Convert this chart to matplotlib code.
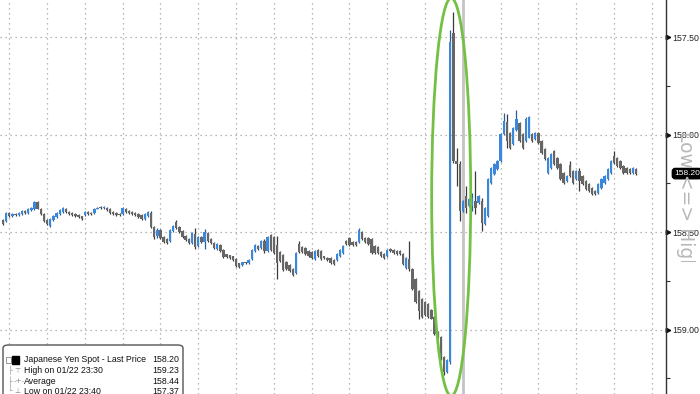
import matplotlib
matplotlib.use("Agg")
import matplotlib.pyplot as plt
from matplotlib.patches import Ellipse, FancyBboxPatch, Rectangle

# 10-minute USD/JPY candles (axis is inverted: Low <=> High)
opens = [
    158.438, 158.443, 158.402, 158.418, 158.407, 158.412, 158.407, 158.392, 158.402, 158.387,
    158.381, 158.345, 158.381, 158.407, 158.438, 158.469, 158.438, 158.423, 158.407, 158.397,
    158.381, 158.397, 158.402, 158.407, 158.412, 158.418, 158.412, 158.397, 158.402, 158.402,
    158.381, 158.371, 158.376, 158.376, 158.381, 158.397, 158.402, 158.407, 158.407, 158.381,
    158.392, 158.397, 158.402, 158.407, 158.412, 158.433, 158.418, 158.402, 158.474, 158.521,
    158.490, 158.526, 158.536, 158.546, 158.495, 158.448, 158.474, 158.495, 158.521, 158.536,
    158.557, 158.510, 158.572, 158.526, 158.552, 158.505, 158.536, 158.557, 158.588, 158.567,
    158.593, 158.613, 158.619, 158.624, 158.639, 158.660, 158.670, 158.655, 158.660, 158.639,
    158.598, 158.572, 158.582, 158.546, 158.598, 158.515, 158.526, 158.567, 158.603, 158.619,
    158.655, 158.670, 158.691, 158.711, 158.562, 158.577, 158.582, 158.598, 158.603, 158.639,
    158.593, 158.598, 158.624, 158.634, 158.634, 158.644, 158.644, 158.624, 158.608, 158.546,
    158.531, 158.552, 158.552, 158.552, 158.500, 158.531, 158.531, 158.536, 158.572, 158.577,
    158.603, 158.613, 158.624, 158.588, 158.593, 158.598, 158.598, 158.613, 158.686, 158.639,
    158.691, 158.742, 158.804, 158.845, 158.856, 158.871, 158.897, 158.933, 159.010, 159.036,
    159.139, 159.216, 159.165, 157.479, 158.134, 158.149, 158.392, 158.314, 158.366, 158.366,
    158.340, 158.351, 158.340, 158.459, 158.418, 158.247, 158.201, 158.175, 158.134, 157.995,
    157.938, 157.990, 158.046, 157.979, 157.943, 157.995, 158.031, 158.015, 157.995, 158.021,
    157.990, 158.031, 158.072, 158.196, 158.170, 158.082, 158.119, 158.149, 158.196, 158.237,
    158.155, 158.186, 158.227, 158.186, 158.211, 158.237, 158.253, 158.273, 158.289, 158.299,
    158.273, 158.247, 158.227, 158.196, 158.108, 158.119, 158.134, 158.160, 158.170, 158.175,
    158.196, 158.175,
]
closes = [
    158.459, 158.402, 158.418, 158.407, 158.412, 158.402, 158.392, 158.402, 158.381, 158.376,
    158.345, 158.381, 158.407, 158.443, 158.459, 158.433, 158.418, 158.402, 158.387, 158.376,
    158.397, 158.407, 158.412, 158.418, 158.423, 158.433, 158.397, 158.407, 158.407, 158.381,
    158.376, 158.376, 158.371, 158.387, 158.402, 158.407, 158.412, 158.412, 158.376, 158.397,
    158.402, 158.407, 158.412, 158.423, 158.433, 158.407, 158.397, 158.474, 158.526, 158.490,
    158.531, 158.552, 158.557, 158.490, 158.469, 158.479, 158.500, 158.526, 158.541, 158.557,
    158.505, 158.577, 158.526, 158.552, 158.500, 158.546, 158.557, 158.582, 158.562, 158.598,
    158.629, 158.629, 158.634, 158.644, 158.675, 158.680, 158.655, 158.660, 158.644, 158.593,
    158.567, 158.588, 158.546, 158.598, 158.526, 158.593, 158.608, 158.660, 158.649, 158.696,
    158.691, 158.701, 158.722, 158.608, 158.603, 158.603, 158.613, 158.624, 158.634, 158.598,
    158.624, 158.639, 158.634, 158.644, 158.660, 158.665, 158.613, 158.593, 158.572, 158.562,
    158.567, 158.567, 158.567, 158.490, 158.536, 158.552, 158.562, 158.608, 158.608, 158.608,
    158.624, 158.634, 158.593, 158.598, 158.608, 158.613, 158.613, 158.665, 158.634, 158.691,
    158.794, 158.856, 158.907, 158.933, 158.923, 158.933, 158.943, 159.021, 159.036, 159.139,
    159.216, 159.155, 157.526, 158.134, 158.149, 158.392, 158.340, 158.376, 158.330, 158.325,
    158.376, 158.314, 158.454, 158.376, 158.227, 158.170, 158.149, 158.134, 157.995, 157.928,
    158.031, 158.067, 157.964, 157.918, 158.031, 158.067, 157.918, 157.912, 158.031, 157.990,
    158.041, 158.093, 158.124, 158.119, 158.098, 158.149, 158.170, 158.227, 158.247, 158.211,
    158.211, 158.247, 158.186, 158.237, 158.253, 158.278, 158.289, 158.304, 158.304, 158.253,
    158.227, 158.211, 158.175, 158.134, 158.144, 158.160, 158.170, 158.196, 158.196, 158.196,
    158.170, 158.201,
]
highs = [
    158.464, 158.449, 158.423, 158.421, 158.416, 158.415, 158.410, 158.406, 158.405, 158.390,
    158.385, 158.384, 158.411, 158.447, 158.464, 158.474, 158.441, 158.426, 158.410, 158.400,
    158.400, 158.410, 158.415, 158.421, 158.426, 158.437, 158.415, 158.410, 158.410, 158.405,
    158.384, 158.379, 158.379, 158.390, 158.405, 158.410, 158.415, 158.416, 158.410, 158.400,
    158.405, 158.410, 158.415, 158.426, 158.437, 158.437, 158.421, 158.479, 158.536, 158.531,
    158.536, 158.557, 158.562, 158.551, 158.499, 158.483, 158.504, 158.530, 158.545, 158.562,
    158.562, 158.588, 158.577, 158.556, 158.588, 158.551, 158.561, 158.587, 158.592, 158.603,
    158.634, 158.633, 158.638, 158.648, 158.680, 158.685, 158.674, 158.664, 158.664, 158.643,
    158.602, 158.592, 158.586, 158.608, 158.603, 158.598, 158.613, 158.742, 158.655, 158.701,
    158.696, 158.706, 158.727, 158.716, 158.608, 158.608, 158.618, 158.629, 158.639, 158.644,
    158.629, 158.644, 158.638, 158.648, 158.664, 158.670, 158.649, 158.628, 158.613, 158.566,
    158.572, 158.571, 158.571, 158.556, 158.541, 158.556, 158.566, 158.613, 158.613, 158.612,
    158.628, 158.638, 158.628, 158.602, 158.612, 158.617, 158.617, 158.670, 158.691, 158.701,
    158.799, 158.861, 158.948, 158.938, 158.928, 158.938, 158.948, 159.026, 159.041, 159.155,
    159.232, 159.221, 159.175, 158.144, 158.263, 158.443, 158.397, 158.402, 158.371, 158.392,
    158.407, 158.356, 158.495, 158.464, 158.423, 158.252, 158.206, 158.180, 158.139, 158.000,
    158.067, 158.072, 158.051, 157.984, 158.036, 158.072, 158.036, 158.020, 158.036, 158.026,
    158.046, 158.098, 158.129, 158.201, 158.175, 158.155, 158.175, 158.232, 158.252, 158.242,
    158.216, 158.252, 158.232, 158.289, 158.258, 158.283, 158.294, 158.309, 158.309, 158.304,
    158.278, 158.252, 158.232, 158.201, 158.149, 158.165, 158.175, 158.201, 158.200, 158.200,
    158.200, 158.205,
]
lows = [
    158.433, 158.397, 158.397, 158.403, 158.404, 158.398, 158.388, 158.389, 158.378, 158.372,
    158.341, 158.341, 158.378, 158.404, 158.434, 158.430, 158.414, 158.398, 158.383, 158.372,
    158.378, 158.394, 158.399, 158.404, 158.409, 158.415, 158.394, 158.394, 158.399, 158.378,
    158.373, 158.368, 158.368, 158.373, 158.378, 158.394, 158.399, 158.404, 158.372, 158.378,
    158.389, 158.394, 158.399, 158.404, 158.409, 158.404, 158.393, 158.392, 158.470, 158.479,
    158.486, 158.522, 158.532, 158.486, 158.464, 158.438, 158.470, 158.491, 158.517, 158.532,
    158.501, 158.479, 158.521, 158.522, 158.485, 158.501, 158.532, 158.553, 158.558, 158.563,
    158.589, 158.610, 158.615, 158.620, 158.635, 158.656, 158.651, 158.651, 158.640, 158.589,
    158.563, 158.568, 158.542, 158.536, 158.521, 158.510, 158.521, 158.521, 158.598, 158.613,
    158.650, 158.665, 158.686, 158.603, 158.546, 158.572, 158.577, 158.593, 158.598, 158.593,
    158.588, 158.593, 158.620, 158.630, 158.630, 158.640, 158.609, 158.588, 158.567, 158.542,
    158.526, 158.548, 158.548, 158.479, 158.495, 158.527, 158.527, 158.531, 158.567, 158.573,
    158.599, 158.609, 158.588, 158.584, 158.589, 158.594, 158.594, 158.609, 158.629, 158.546,
    158.686, 158.737, 158.799, 158.840, 158.851, 158.866, 158.892, 158.928, 159.005, 159.031,
    159.134, 159.150, 157.464, 157.370, 158.067, 158.134, 158.335, 158.263, 158.325, 158.299,
    158.186, 158.309, 158.325, 158.371, 158.222, 158.165, 158.144, 158.129, 157.990, 157.887,
    157.892, 157.985, 157.959, 157.876, 157.938, 157.990, 157.912, 157.907, 157.990, 157.985,
    157.985, 158.026, 158.067, 158.114, 158.093, 158.077, 158.114, 158.144, 158.191, 158.206,
    158.134, 158.181, 158.181, 158.170, 158.206, 158.232, 158.248, 158.268, 158.285, 158.248,
    158.222, 158.206, 158.170, 158.129, 158.082, 158.114, 158.129, 158.155, 158.166, 158.171,
    158.166, 158.171,
]

y_ticks = [157.50, 158.00, 158.50, 159.00]
y_minor = [157.75, 158.25, 158.75, 159.25]
y_range = (159.33, 157.31)
grid_start, grid_step = 2, 12      # a dotted line every 12 bars (2 hours)
session_break = 146                 # solid grey line
spike = 142                         # candle circled in green
last_price = 158.20

legend_title = "Japanese Yen Spot - Last Price"
legend_labels = ["High on 01/22 23:30", "Average", "Low on 01/22 23:40"]
legend_values = ["159.23", "158.44", "157.37"]

BLUE = "#3a88dc"
GREY = "#666666"
WICK_GREY = "#3a3a3a"
FONT = ["Liberation Sans", "DejaVu Sans"]

fig = plt.figure(figsize=(7.0, 3.94), dpi=100)
ax = fig.add_axes([0.0, 0.0, 666 / 700, 1.0])

n = len(closes)
ax.set_xlim(-0.95, 210.5)
ax.set_ylim(*y_range)

# grid
for gx in range(grid_start, n + 10, grid_step):
    ax.axvline(gx, color="#a0a0a0", lw=0.9, ls=(0, (1, 3)), zorder=0)
for gy in y_ticks:
    ax.axhline(gy, color="#a0a0a0", lw=0.9, ls=(0, (1, 3)), zorder=0)
ax.axvline(session_break, color="#c4c4c4", lw=2.0, zorder=1)

# candles
for i in range(n):
    o, h, l, c = opens[i], highs[i], lows[i], closes[i]
    up = c < o
    body_col = BLUE if up else GREY
    wick_col = "#2a5f9a" if up else WICK_GREY
    ax.vlines(i, l, h, color=wick_col, lw=0.9, zorder=2)
    ax.bar(i, max(abs(c - o), 0.005), bottom=min(o, c), width=0.75,
           color=body_col, edgecolor="none", zorder=3)

# green ellipse around the spike
ax.add_patch(Ellipse((spike + 0.3, sum(y_range) / 2), width=12.4,
                     height=abs(y_range[0] - y_range[1]) * 1.01,
                     fill=False, edgecolor="#74c045", lw=2.0, zorder=4, clip_on=False))

# right axis
for s in ["left", "top", "bottom"]:
    ax.spines[s].set_visible(False)
ax.spines["right"].set_color("#333333")
ax.spines["right"].set_linewidth(1.0)
ax.yaxis.tick_right()
ax.set_yticks(y_ticks)
ax.set_yticklabels([f"{t:.2f}" for t in y_ticks], fontsize=6.3, color="#222222",
                   family=FONT)
ax.set_yticks(y_minor, minor=True)
ax.tick_params(axis="y", which="major", length=0, pad=4.5)
ax.tick_params(axis="y", which="minor", length=3, width=0.8, color="#333333")
ax.set_xticks([])
ax.plot([1.003] * len(y_ticks), y_ticks, ls="none", marker=">", ms=3.2, color="#111111",
        transform=ax.get_yaxis_transform(), clip_on=False)

# "Low <=> High" side label, clipped where the reference shows it cut
side = fig.text(686 / 700, 1 - 131 / 394, "Low <=> High", rotation=-90, fontsize=13.5,
                color="#b8b8b8", ha="center", va="top", family="DejaVu Sans", zorder=1)
clip = Rectangle((660 / 700, 1 - 262 / 394), 40 / 700, 140 / 394,
                 transform=fig.transFigure, visible=False)
fig.patches.append(clip)
side.set_clip_path(clip)

ax.text(1.012, last_price, f"{last_price:.2f}", transform=ax.get_yaxis_transform(),
        fontsize=6, color="white", va="center", ha="left", family=FONT, zorder=6,
        bbox=dict(boxstyle="round,pad=0.2,rounding_size=0.35", fc="black", ec="black"))

# legend box
fig.patches.append(FancyBboxPatch((3 / 700, -10 / 394), 180 / 700, 59 / 394,
                                  boxstyle="round,pad=0,rounding_size=0.008",
                                  transform=fig.transFigure, fc="white",
                                  ec="#555555", lw=1.0, zorder=5))
row_y = [360, 370.5, 381, 391]
fig.patches.append(Rectangle((6 / 700, 1 - 363 / 394), 5 / 700, 6 / 394,
                             transform=fig.transFigure, fill=False, ec="#888888", lw=0.6, zorder=6))
fig.patches.append(Rectangle((12 / 700, 1 - 364 / 394), 7 / 700, 8 / 394,
                             transform=fig.transFigure, fc="black", ec="black", zorder=6))
fig.text(24 / 700, 1 - row_y[0] / 394, legend_title, fontsize=6.3, va="center", zorder=7,
         family=FONT, color="#111111")
fig.text(179 / 700, 1 - row_y[0] / 394, f"{last_price:.2f}", fontsize=6.3, va="center",
         ha="right", zorder=7, family=FONT, color="#111111")
marks = ["\u22a4", "-+-", "\u22a5"]
for k in range(3):
    yy = 1 - row_y[k + 1] / 394
    fig.text(8 / 700, yy, "\u251c" if k < 2 else "\u2514", fontsize=5.5, color="#999999",
             va="center", zorder=7)
    fig.text(14 / 700, yy, marks[k], fontsize=5, color="#888888", va="center", zorder=7)
    fig.text(24 / 700, yy, legend_labels[k], fontsize=6.3, va="center", zorder=7,
             family=FONT, color="#111111")
    fig.text(179 / 700, yy, legend_values[k], fontsize=6.3, va="center", ha="right",
             zorder=7, family=FONT, color="#111111")

fig.savefig("out.png", dpi=100)
